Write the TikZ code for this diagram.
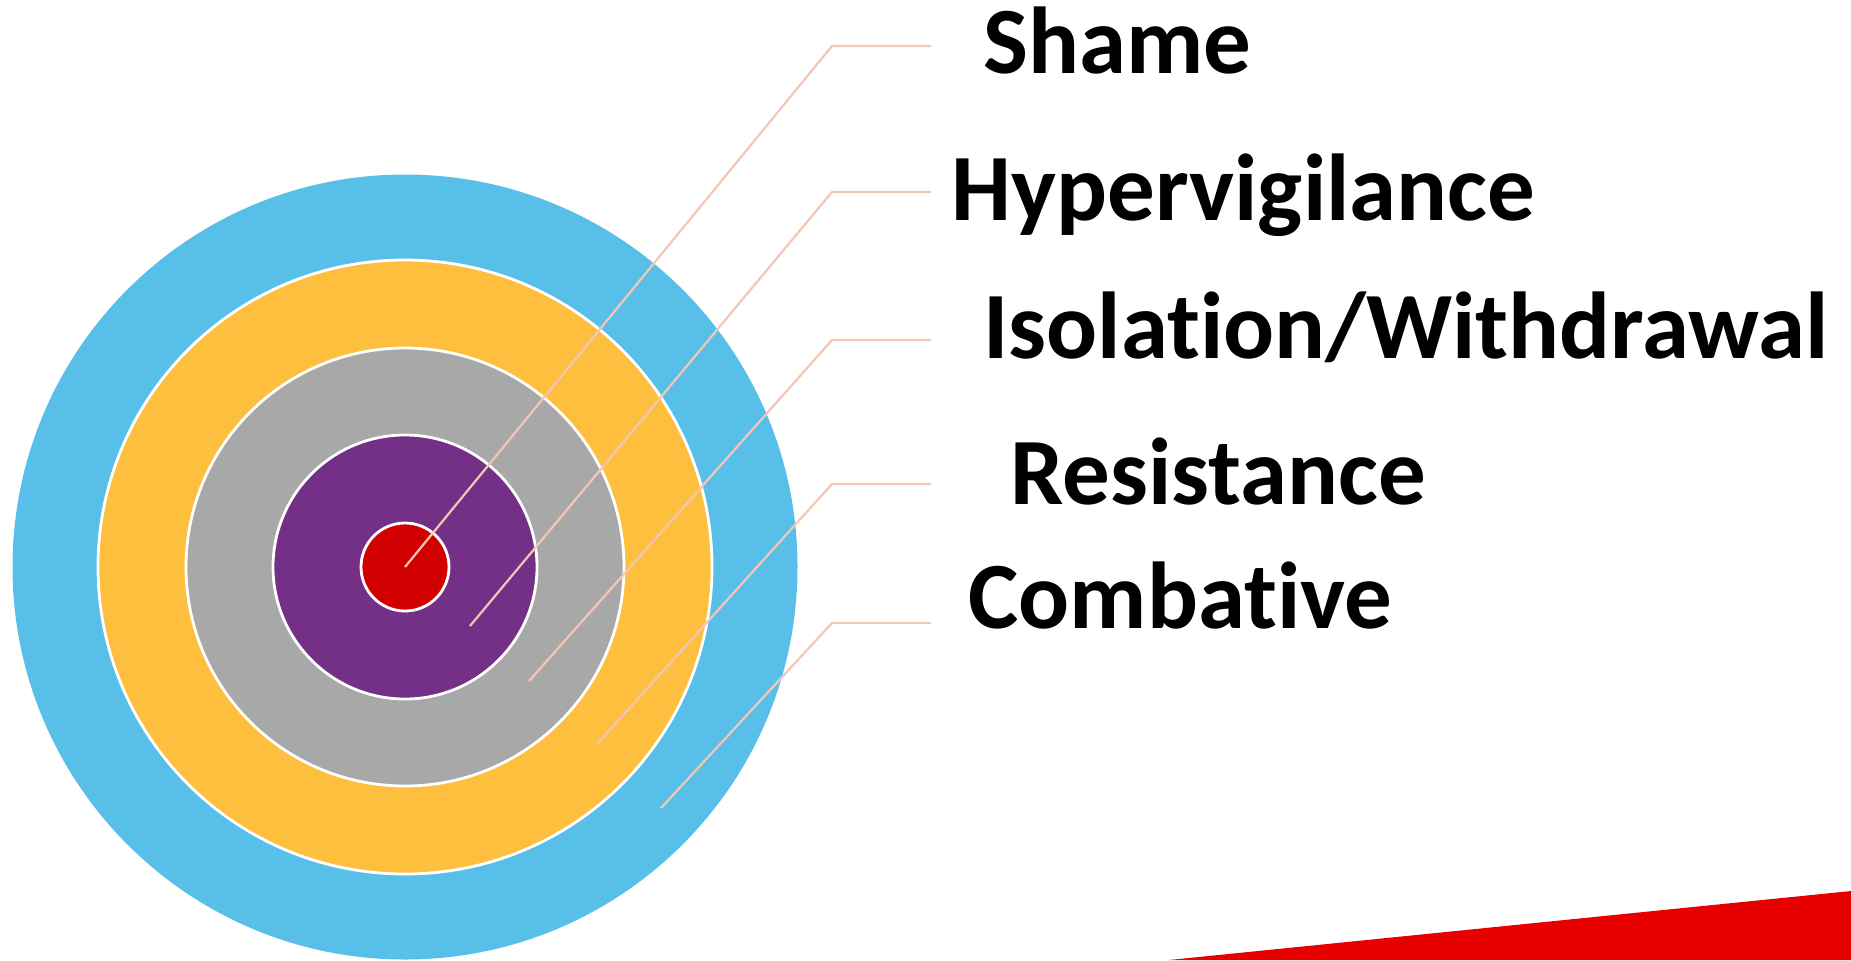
\documentclass[tikz,border=0pt]{standalone}
\usepackage{fontspec}
\setmainfont{Carlito}[Ligatures=NoCommon]
\usetikzlibrary{positioning}

\definecolor{ringblue}{HTML}{58C0E8}
\definecolor{ringorange}{HTML}{FEBE3E}
\definecolor{ringgray}{HTML}{A8A8A8}
\definecolor{ringpurple}{HTML}{742F86}
\definecolor{ringred}{HTML}{D20000}
\definecolor{leadpeach}{HTML}{F4C6B6}
\definecolor{cornerred}{HTML}{E80000}

\tikzset{
    ring/.style={circle, draw=white, line width=1.4pt, inner sep=0pt},
    leader/.style={draw=leadpeach, line width=1.1pt},
    tag/.style={anchor=base west, inner sep=0pt, font=\fontsize{47.5}{57}\selectfont\bfseries},
}

\begin{document}
\begin{tikzpicture}[x=0.5pt,y=-0.5pt]
    \useasboundingbox (0,0) rectangle (1851,960);

    % target rings, outside in
    \node[ring, fill=ringblue, draw=none, minimum size=785pt/2] (blue) at (405,567) {};
    \node[ring, fill=ringorange, minimum size=614pt/2] (orange) at (405,567) {};
    \node[ring, fill=ringgray, minimum size=438pt/2] (gray) at (405,567) {};
    \node[ring, fill=ringpurple, minimum size=264pt/2] (purple) at (405,567) {};
    \node[ring, fill=ringred, minimum size=88pt/2] (red) at (405,567) {};

    % red corner
    \fill[cornerred] (1169,960) -- (1851,891) -- (1851,960) -- cycle;

    % leader lines
    \coordinate (hyperIn) at (470,626);
    \coordinate (isoIn) at (529,681);
    \coordinate (resIn) at (597,744);
    \coordinate (combIn) at (661,808);

    \coordinate (shameBend) at (832,46);
    \coordinate (hyperBend) at (832,192);
    \coordinate (isoBend) at (832,340);
    \coordinate (resBend) at (832,484);
    \coordinate (combBend) at (832,623);

    \coordinate (shameEnd) at (931,46);
    \coordinate (hyperEnd) at (931,192);
    \coordinate (isoEnd) at (931,340);
    \coordinate (resEnd) at (931,484);
    \coordinate (combEnd) at (931,623);

    \draw[leader] (red.center) -- (shameBend) -- (shameEnd);
    \draw[leader] (hyperIn) -- (hyperBend) -- (hyperEnd);
    \draw[leader] (isoIn) -- (isoBend) -- (isoEnd);
    \draw[leader] (resIn) -- (resBend) -- (resEnd);
    \draw[leader] (combIn) -- (combBend) -- (combEnd);

    % labels
    \node[tag] (shame) at (983,73) {Shame};
    \node[tag] (hyper) at (951,220) {Hypervigilance};
    \node[tag] (iso) at (983,358) {Isolation/Withdrawal};
    \node[tag] (res) at (1010,504) {Resistance};
    \node[tag] (comb) at (968,628) {Combative};
\end{tikzpicture}
\end{document}
